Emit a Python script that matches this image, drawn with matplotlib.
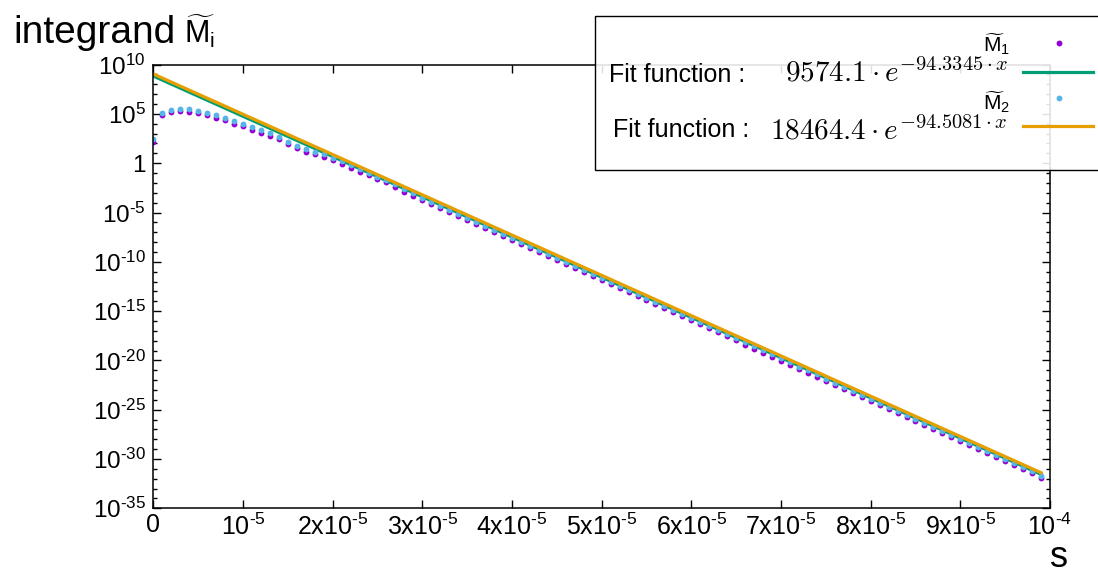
import numpy as np
import matplotlib
matplotlib.use('Agg')
import matplotlib.pyplot as plt
from matplotlib.ticker import FixedLocator, FuncFormatter, NullFormatter
from matplotlib.lines import Line2D
from matplotlib.patches import Rectangle

plt.rcParams['font.family'] = ['Liberation Sans', 'DejaVu Sans']
plt.rcParams['mathtext.fontset'] = 'custom'
plt.rcParams['mathtext.rm'] = 'Liberation Sans'
plt.rcParams['mathtext.it'] = 'Liberation Sans:italic'
plt.rcParams['mathtext.bf'] = 'Liberation Sans:bold'

# data (log10 of the integrand), one point every 1e-6 in s
s = np.arange(100) * 1e-6
m1_log = [2.15, 4.86, 5.19, 5.29, 5.22, 5.06, 4.86, 4.62, 4.35, 4.00,
          3.74, 3.37, 3.06, 2.79, 2.42, 1.95, 1.50, 1.15, 0.90, 0.63,
          0.32, -0.05, -0.45, -0.89, -1.20, -1.60, -1.94, -2.40, -2.88, -3.29,
          -3.70, -4.11, -4.52, -4.92, -5.33, -5.74, -6.15, -6.56, -6.96, -7.37,
          -7.78, -8.19, -8.60, -9.00, -9.41, -9.82, -10.23, -10.64, -11.04, -11.45,
          -11.86, -12.27, -12.68, -13.08, -13.49, -13.90, -14.31, -14.72, -15.12, -15.53,
          -15.94, -16.35, -16.76, -17.16, -17.57, -17.98, -18.39, -18.80, -19.20, -19.61,
          -20.02, -20.43, -20.84, -21.24, -21.65, -22.06, -22.47, -22.88, -23.28, -23.69,
          -24.10, -24.51, -24.92, -25.32, -25.73, -26.14, -26.55, -26.96, -27.36, -27.77,
          -28.18, -28.59, -29.00, -29.40, -29.81, -30.22, -30.63, -31.04, -31.44, -31.90]
m2_log = [2.42, 5.12, 5.43, 5.53, 5.50, 5.33, 5.12, 4.89, 4.58, 4.28,
          4.00, 3.64, 3.34, 3.06, 2.66, 2.18, 1.74, 1.40, 1.17, 0.90,
          0.56, 0.19, -0.22, -0.62, -0.96, -1.37, -1.70, -2.15, -2.66, -3.07,
          -3.48, -3.89, -4.30, -4.70, -5.11, -5.52, -5.93, -6.34, -6.74, -7.15,
          -7.56, -7.97, -8.38, -8.78, -9.19, -9.60, -10.01, -10.42, -10.82, -11.23,
          -11.64, -12.05, -12.46, -12.86, -13.27, -13.68, -14.09, -14.50, -14.90, -15.31,
          -15.72, -16.13, -16.54, -16.94, -17.35, -17.76, -18.17, -18.58, -18.98, -19.39,
          -19.80, -20.21, -20.62, -21.02, -21.43, -21.84, -22.25, -22.66, -23.06, -23.47,
          -23.88, -24.29, -24.70, -25.10, -25.51, -25.92, -26.33, -26.74, -27.14, -27.55,
          -27.96, -28.37, -28.78, -29.18, -29.59, -30.00, -30.41, -30.82, -31.22, -31.68]

# fitted exponentials (straight lines on the log axis), log10 at both ends
fit_s = [0.0, 9.9e-5]
fit1_log = [8.84, -31.55]
fit2_log = [9.05, -31.39]
fit1_label = r'$9574.1\cdot e^{-94.3345\cdot x}$'
fit2_label = r'$18464.4\cdot e^{-94.5081\cdot x}$'

purple = '#9400d3'
green = '#009e73'
blue = '#56b4e9'
orange = '#e69f00'

W, H = 1098, 574
fig = plt.figure(figsize=(W / 100, H / 100), dpi=100)
ax = fig.add_axes([153.3 / W, 1 - 508.3 / H, (1050 - 153.3) / W, (508.3 - 64.6) / H])

p1, = ax.plot(s, 10.0 ** np.array(m1_log), 'o', color=purple, ms=4.2, mew=0)
l1, = ax.plot(fit_s, 10.0 ** np.array(fit1_log), '-', color=green, lw=2.3)
p2, = ax.plot(s, 10.0 ** np.array(m2_log), 'o', color=blue, ms=4.2, mew=0)
l2, = ax.plot(fit_s, 10.0 ** np.array(fit2_log), '-', color=orange, lw=2.3)

ax.set_yscale('log')
ax.set_xlim(0, 1e-4)
ax.set_ylim(1e-35, 1e10)

hy = '\u2010'


def xfmt(v, pos):
    k = int(round(v / 1e-5))
    if k == 0:
        return '0'
    if k == 1:
        return r'$10^{%s5}$' % hy
    if k == 10:
        return r'$10^{%s4}$' % hy
    return '%dx' % k + r'$10^{%s5}$' % hy


def yfmt(v, pos):
    e = int(round(np.log10(v)))
    if e == 0:
        return '1'
    if e < 0:
        return r'$10^{%s%d}$' % (hy, -e)
    return r'$10^{%d}$' % e


ax.xaxis.set_major_locator(FixedLocator(np.arange(11) * 1e-5))
ax.xaxis.set_major_formatter(FuncFormatter(xfmt))
ax.yaxis.set_major_locator(FixedLocator(10.0 ** np.arange(-35, 11, 5)))
ax.yaxis.set_minor_locator(FixedLocator(10.0 ** np.arange(-35, 11)))
ax.yaxis.set_major_formatter(FuncFormatter(yfmt))
ax.yaxis.set_minor_formatter(NullFormatter())

ax.tick_params(which='both', direction='in', top=True, right=True, width=1.0, labelsize=17.5)
ax.tick_params(axis='x', labelsize=18)
ax.tick_params(which='major', length=5.5)
ax.tick_params(which='minor', length=3)
ax.tick_params(axis='x', pad=3.5)
ax.tick_params(axis='y', pad=5.5)
for sp in ax.spines.values():
    sp.set_linewidth(1.1)

# axis labels
fig.text(13 / W, 1 - 43 / H, 'integrand', fontsize=28, va='baseline')
fig.text(184 / W, 1 - 43 / H, r'$\widetilde{\mathrm{M}}_{\mathrm{i}}$', fontsize=22, va='baseline')
fig.text(1059 / W, 1 - 567 / H, 's', fontsize=26, ha='center', va='baseline')

# legend box (runs past the right edge, semi transparent)
fig.add_artist(Rectangle((594.7 / W, 1 - 170 / H), (1110 - 594.7) / W, (170 - 16.5) / H,
                         transform=fig.transFigure, facecolor=(1, 1, 1, 0.88),
                         edgecolor='black', lw=1.0, zorder=5))


def fy(y):
    return 1 - y / H


fig.text(1010 / W, fy(52.0), r'$\widetilde{\mathrm{M}}_1$', fontsize=15, ha='right', va='baseline', zorder=6)
fig.text(609.3 / W, fy(81.7), 'Fit function :', fontsize=18, va='baseline', zorder=6)
fig.text(1008 / W, fy(82.0), fit1_label, fontsize=21, ha='right', va='baseline',
         math_fontfamily='cm', zorder=6)
fig.text(1010 / W, fy(109.5), r'$\widetilde{\mathrm{M}}_2$', fontsize=15, ha='right', va='baseline', zorder=6)
fig.text(613.3 / W, fy(136.7), 'Fit function :', fontsize=18, va='baseline', zorder=6)
fig.text(1008 / W, fy(139.0), fit2_label, fontsize=21, ha='right', va='baseline',
         math_fontfamily='cm', zorder=6)

for handle, y in [(p1, 43), (l1, 71.7), (p2, 98.3), (l2, 126)]:
    if handle.get_linestyle() == 'None':
        xs = [1059 / W]
    else:
        xs = [1023 / W, 1093 / W]
    fig.add_artist(Line2D(xs, [fy(y)] * len(xs), transform=fig.transFigure,
                          color=handle.get_color(), marker=handle.get_marker(),
                          ms=handle.get_markersize(), mew=0, lw=handle.get_linewidth(),
                          linestyle=handle.get_linestyle(), zorder=6))

fig.savefig('out.png', dpi=100)
